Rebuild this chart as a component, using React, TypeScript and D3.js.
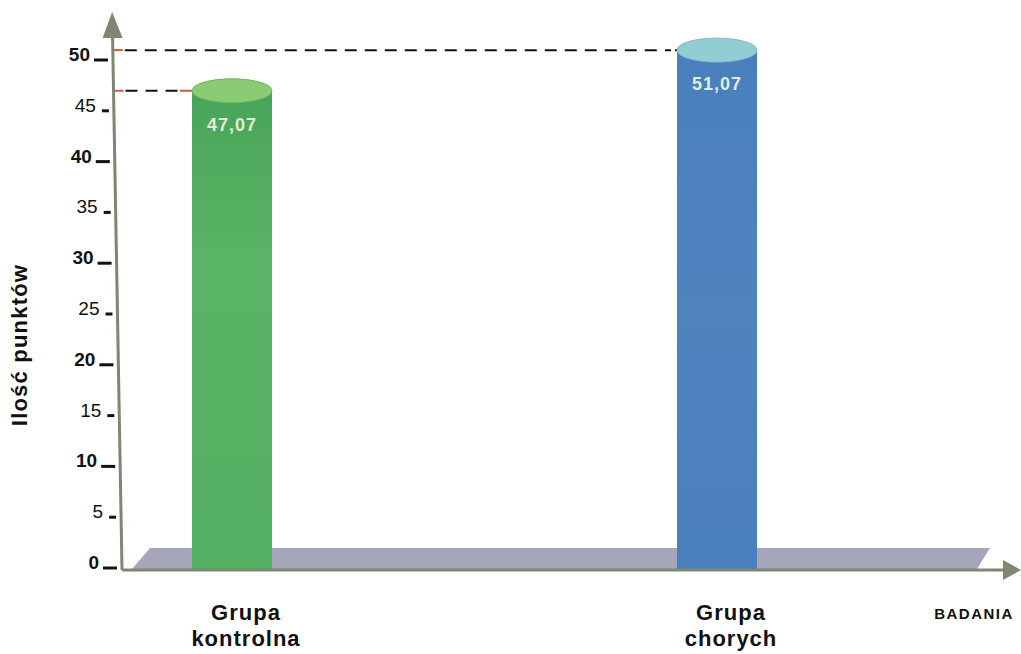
import React from "react";
import * as d3 from "d3";

// Chart data
const categories = ["Grupa kontrolna", "Grupa chorych"];
const categoryLines = [["Grupa", "kontrolna"], ["Grupa", "chorych"]];
const values = [47.07, 51.07];
const valueLabels = ["47,07", "51,07"];
const yTicks = [0, 5, 10, 15, 20, 25, 30, 35, 40, 45, 50];
const yTitle = "Ilość punktów";
const xTitle = "BADANIA";

const W = 1021;
const H = 654;
const FONT = "'Liberation Sans', Arial, Helvetica, sans-serif";

const bodyFill = ["url(#gBody)", "url(#bBody)"];
const topFill = ["#8acb74", "#93cdd4"];
const topStroke = ["#6cb462", "#7fb7c4"];

export default function App() {
  const y = d3.scaleLinear().domain([0, 50]).range([569, 61]);
  const x = d3.scalePoint<string>().domain(categories).range([232, 717]);

  // the vertical axis leans slightly to the left toward its top
  const axisX = (py: number) => 113 + ((py - 61) * 9) / 508;
  const barHalf = 40;
  const ry = 12;
  const axisColor = "#7c8872";

  const floor = d3.line()([
    [132, 569],
    [150, 548],
    [990, 548],
    [977, 569],
  ]) + "Z";

  return (
    <div style={{ position: "fixed", left: 0, top: 0, width: W, height: H, overflow: "hidden" }}>
      <svg width={W} height={H} style={{ display: "block", background: "#fff" }}>
        <defs>
          <linearGradient id="gBody" x1="0" y1="0" x2="0" y2="1">
            <stop offset="0" stopColor="#48a458" />
            <stop offset="0.35" stopColor="#5ab465" />
            <stop offset="1" stopColor="#54b063" />
          </linearGradient>
          <linearGradient id="bBody" x1="0" y1="0" x2="0" y2="1">
            <stop offset="0" stopColor="#4a7fbe" />
            <stop offset="0.5" stopColor="#4f84bf" />
            <stop offset="1" stopColor="#4a7fbd" />
          </linearGradient>
        </defs>

        {/* floor plane */}
        <path d={floor} fill="#a6a6ba" />

        {/* reference lines from the axis to each bar top */}
        {values.map((v, i) => {
          const py = y(v);
          const x0 = axisX(py);
          const x1 = (x(categories[i]) as number) - barHalf;
          return (
            <g key={"ref" + i}>
              <line x1={x0 + 12} x2={x1 - 14} y1={py} y2={py} stroke="#111" strokeWidth={2} strokeDasharray="12 8" />
              <line x1={x0} x2={x0 + 10} y1={py} y2={py} stroke="#d4573f" strokeWidth={2} />
              <line x1={x1 - 12} x2={x1} y1={py} y2={py} stroke={i === 0 ? "#d4573f" : "#111"} strokeWidth={2} strokeDasharray={i === 0 ? "none" : "6 4"} />
            </g>
          );
        })}

        {/* cylinders */}
        {values.map((v, i) => {
          const cx = x(categories[i]) as number;
          const top = y(v);
          const base = y(0);
          return (
            <g key={"bar" + i}>
              <rect x={cx - barHalf} y={top} width={barHalf * 2} height={base - top} fill={bodyFill[i]} />
              <ellipse cx={cx} cy={top} rx={barHalf} ry={ry} fill={topFill[i]} stroke={topStroke[i]} strokeWidth={1} />
              <text x={cx} y={top + 40} textAnchor="middle" fontFamily={FONT} fontWeight="bold" fontSize={18} letterSpacing={1} fill="#e2ebdc">
                {valueLabels[i]}
              </text>
            </g>
          );
        })}

        {/* y ticks */}
        {yTicks.map((t) => {
          const py = y(t);
          const major = t % 10 === 0;
          const ax = axisX(py);
          const dashEnd = ax - 5;
          const dashLen = major ? 14 : 7;
          return (
            <g key={"t" + t}>
              <line x1={dashEnd - dashLen} x2={dashEnd} y1={py - 1} y2={py - 1} stroke="#111" strokeWidth={3} />
              <text
                x={dashEnd - (major ? 14 : 9) - 4}
                y={py}
                textAnchor="end"
                fontFamily={FONT}
                fontWeight={major ? "bold" : "normal"}
                fontSize={19}
                fill="#111"
              >
                {t}
              </text>
            </g>
          );
        })}

        {/* axes */}
        <line x1={axisX(569)} y1={570} x2={axisX(30)} y2={30} stroke={axisColor} strokeWidth={3} />
        <path d={`M${axisX(12)},12 L${axisX(38) - 10},38 L${axisX(38) + 10},38 Z`} fill={axisColor} />
        <line x1={axisX(569)} y1={570} x2={1005} y2={570} stroke={axisColor} strokeWidth={3} />
        <path d="M1021,570 L1003,560 L1003,580 Z" fill={axisColor} />

        {/* category labels */}
        {categoryLines.map((lines, i) => (
          <text key={"c" + i} textAnchor="middle" fontFamily={FONT} fontWeight="bold" fontSize={22} letterSpacing={1} fill="#111">
            {lines.map((l, j) => (
              <tspan key={j} x={(x(categories[i]) as number) + 14} y={620 + j * 26}>
                {l}
              </tspan>
            ))}
          </text>
        ))}

        <text x={974} y={619} textAnchor="middle" fontFamily={FONT} fontWeight="bold" fontSize={15} fill="#111" letterSpacing={1.5}>
          {xTitle}
        </text>

        <text
          transform={`translate(27,345) rotate(-90)`}
          textAnchor="middle"
          fontFamily={FONT}
          fontWeight="bold"
          fontSize={22}
          letterSpacing={1.2}
          fill="#111"
        >
          {yTitle}
        </text>
      </svg>
    </div>
  );
}
